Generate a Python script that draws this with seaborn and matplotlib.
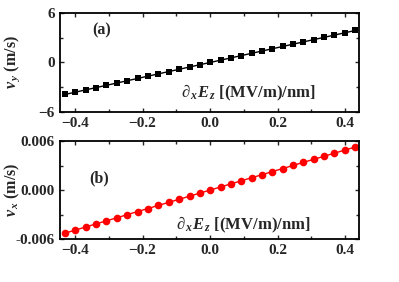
import numpy as np
import pandas as pd
import seaborn as sns
import matplotlib.pyplot as plt

# field gradient (MV/m)/nm
grad = [-0.43, -0.399, -0.368, -0.338, -0.307, -0.276, -0.246, -0.215, -0.184,
        -0.154, -0.123, -0.092, -0.061, -0.031, 0.0, 0.031, 0.061, 0.092, 0.123,
        0.154, 0.184, 0.215, 0.246, 0.276, 0.307, 0.338, 0.368, 0.399, 0.43]
# v_y (m/s), panel (a)
vy = [-3.88, -3.60, -3.32, -3.05, -2.77, -2.49, -2.22, -1.94, -1.66, -1.39,
      -1.11, -0.83, -0.55, -0.28, 0.0, 0.28, 0.55, 0.83, 1.11, 1.39, 1.66,
      1.94, 2.22, 2.49, 2.77, 3.05, 3.32, 3.60, 3.88]
# v_x (m/s), panel (b)
vx = [-0.00527, -0.00489, -0.00451, -0.00414, -0.00376, -0.00339, -0.00301,
      -0.00263, -0.00226, -0.00188, -0.00151, -0.00113, -0.00075, -0.00038,
      0.0, 0.00038, 0.00075, 0.00113, 0.00151, 0.00188, 0.00226, 0.00263,
      0.00301, 0.00339, 0.00376, 0.00414, 0.00451, 0.00489, 0.00527]

df = pd.DataFrame({'grad': grad, 'vy': vy, 'vx': vx})

sns.set_style('ticks')
plt.rcParams['font.family'] = ['Liberation Serif', 'DejaVu Serif']
plt.rcParams['font.weight'] = 'bold'
plt.rcParams['mathtext.fontset'] = 'custom'
plt.rcParams['mathtext.rm'] = 'Liberation Serif:bold'
plt.rcParams['mathtext.it'] = 'Liberation Serif:italic:bold'
plt.rcParams['mathtext.bf'] = 'Liberation Serif:bold'

fig = plt.figure(figsize=(3.99, 2.82), dpi=100)
ax1 = fig.add_axes([0.150, 0.603, 0.749, 0.351])
ax2 = fig.add_axes([0.150, 0.152, 0.749, 0.348])

sns.lineplot(data=df, x='grad', y='vy', ax=ax1, color='black', marker='s',
             markersize=5, markeredgewidth=0, linewidth=1)
sns.lineplot(data=df, x='grad', y='vx', ax=ax2, color='red', marker='o',
             markersize=5.5, markeredgewidth=0, linewidth=1)

xlab = r'$\partial_{\,x} E_{\,z}$ [(MV/m)/nm]'
for ax in (ax1, ax2):
    ax.set_xlim(-0.445, 0.44)
    ax.set_xticks([-0.4, -0.2, 0.0, 0.2, 0.4])
    ax.set_xticks([-0.3, -0.1, 0.1, 0.3], minor=True)
    ax.tick_params(which='both', direction='in', top=True, right=True,
                   labelsize=11, width=1)
    ax.tick_params(which='major', length=3)
    ax.tick_params(which='minor', length=2)
    for s in ax.spines.values():
        s.set_linewidth(1.3)
        s.set_color('black')
    ax.set_xlabel('')

ax1.set_ylim(-6, 6)
ax1.set_yticks([-6, 0, 6])
ax1.set_yticks([-3, 3], minor=True)
ax1.set_ylabel(r'$v_{\,y}$ (m/s)', fontsize=11.5, fontweight='bold')
ax1.yaxis.set_label_coords(-0.125, 0.5)
ax1.text(0.11, 0.78, '(a)', transform=ax1.transAxes, fontsize=11.5, fontweight='bold')
ax1.text(0.405, 0.15, xlab, transform=ax1.transAxes, fontsize=12, fontweight='bold')

ax2.set_ylim(-0.006, 0.006)
ax2.set_yticks([-0.006, 0.0, 0.006])
ax2.set_yticklabels(['-0.006', '0.000', '0.006'])
ax2.set_yticks([-0.003, 0.003], minor=True)
ax2.set_ylabel(r'$v_{\,x}$ (m/s)', fontsize=11.5, fontweight='bold')
ax2.yaxis.set_label_coords(-0.125, 0.5)
ax2.text(0.10, 0.58, '(b)', transform=ax2.transAxes, fontsize=11.5, fontweight='bold')
ax2.text(0.39, 0.10, xlab, transform=ax2.transAxes, fontsize=12, fontweight='bold')

for ax in (ax1, ax2):
    for lab in ax.get_xticklabels() + ax.get_yticklabels():
        lab.set_fontweight('bold')

fig.savefig('out.png', dpi=100)
